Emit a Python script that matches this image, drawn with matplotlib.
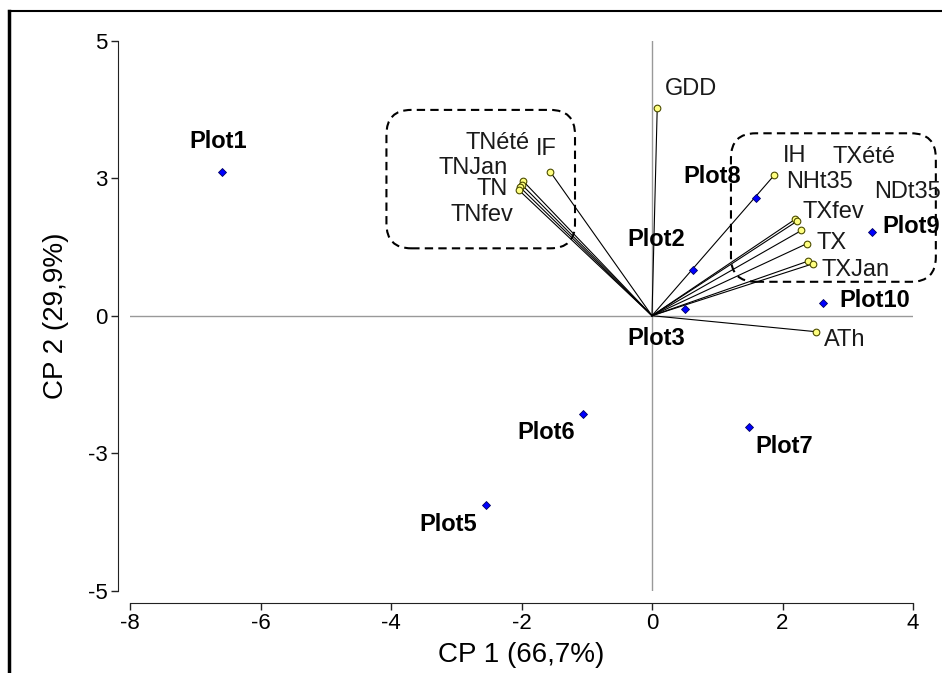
import matplotlib
matplotlib.use("Agg")
import matplotlib.pyplot as plt
from matplotlib.patches import FancyBboxPatch
from matplotlib.lines import Line2D

plt.rcParams['font.family'] = ['Liberation Sans', 'DejaVu Sans']
plt.rcParams['axes.unicode_minus'] = False

# --- individus (plots) ---
plot_names = ["Plot1", "Plot2", "Plot3", "Plot5", "Plot6", "Plot7", "Plot8", "Plot9", "Plot10"]
plot_x = [-6.59, 0.63, 0.51, -2.55, -1.05, 1.48, 1.59, 3.37, 2.62]
plot_y = [3.14, 1.00, 0.14, -4.13, -2.14, -2.43, 2.57, 1.83, 0.28]

# --- variables ---
var_names = ["GDD", "IF", "TNété", "TNJan", "TN", "TNfev", "IH", "NHt35", "TXfev",
             "NDt35", "TX", "TXJan", "TXété", "ATh"]
var_x = [0.08, -1.56, -1.97, -1.99, -2.02, -2.04, 1.87, 2.19, 2.22, 2.29, 2.37, 2.39, 2.46, 2.52]
var_y = [4.53, 3.14, 2.93, 2.85, 2.80, 2.74, 3.06, 2.10, 2.06, 1.86, 1.57, 1.19, 1.13, -0.35]

y_ticks = [-6, -3, 0, 3, 6]
y_tick_labels = ["-5", "-3", "0", "3", "5"]
x_ticks = [-8, -6, -4, -2, 0, 2, 4]

# decalage des etiquettes en pixels (dx, dy, ha)
plot_lab = {
    "Plot1": (-4, 30, "center"), "Plot2": (-37, 30, "center"), "Plot3": (-29, -29, "center"),
    "Plot5": (-37, -20, "center"), "Plot6": (-37, -19, "center"), "Plot7": (36, -19, "center"),
    "Plot8": (-44, 21, "center"), "Plot9": (10, 5, "left"), "Plot10": (16, 2, "left"),
}
var_lab = {
    "GDD": (8, 19, "left"), "IF": (-4, 23, "center"), "TNété": (6, 38, "right"),
    "TNJan": (-14, 17, "right"), "TN": (-12, -2, "right"), "TNfev": (-6, -25, "right"),
    "IH": (9, 19, "left"), "NHt35": (-9, 37, "left"), "TXfev": (6, 9, "left"),
    "NDt35": (73, 38, "left"), "TX": (10, 1, "left"), "TXJan": (14, -9, "left"),
    "TXété": (20, 107, "left"), "ATh": (8, -8, "left"),
}

fig = plt.figure(figsize=(9.42, 6.73), dpi=100)
ax = fig.add_axes([130 / 942, 1 - 590.7 / 673, 783 / 942, 550 / 673])
ax.set_xlim(-8, 4)
ax.set_ylim(-6, 6)

# axes de reference
ax.axhline(0, color="#999999", lw=1, zorder=1)
ax.axvline(0, color="#999999", lw=1, zorder=1)

# fleches des variables
for vx, vy in zip(var_x, var_y):
    ax.plot([0, vx], [0, vy], color="black", lw=0.8, zorder=2)
ax.plot(var_x, var_y, "o", ms=4.8, mfc="#ffff80", mec="#4d4d00", mew=0.8, ls="none", zorder=4)
ax.plot(plot_x, plot_y, "D", ms=4.0, mfc="#0000ff", mec="#000060", mew=0.6, ls="none", zorder=5)

for n, px, py in zip(plot_names, plot_x, plot_y):
    dx, dy, ha = plot_lab[n]
    ax.annotate(n, (px, py), xytext=(dx, dy), textcoords="offset pixels", ha=ha, va="center",
                fontsize=17, fontweight="bold", annotation_clip=False, zorder=6)
for n, vx, vy in zip(var_names, var_x, var_y):
    dx, dy, ha = var_lab[n]
    ax.annotate(n, (vx, vy), xytext=(dx, dy), textcoords="offset pixels", ha=ha, va="center",
                fontsize=17, color="#1a1a1a", annotation_clip=False, zorder=6)

# cadres pointilles
for (x0, x1, y0, y1) in [(-4.07, -1.18, 1.47, 4.49), (1.21, 4.35, 0.74, 3.98)]:
    box = FancyBboxPatch((x0, y0), x1 - x0, y1 - y0,
                         boxstyle="round,pad=0,rounding_size=0.38", mutation_aspect=1.42,
                         fill=False, ec="black", lw=1.5, ls=(0, (4, 2.5)), clip_on=False, zorder=3)
    ax.add_patch(box)

# style des axes
for s in ["top", "right"]:
    ax.spines[s].set_visible(False)
ax.spines["left"].set_position(("outward", 9))
ax.spines["bottom"].set_position(("outward", 9))
ax.spines["left"].set_color("#222222")
ax.spines["bottom"].set_color("#222222")
ax.set_yticks(y_ticks)
ax.set_yticklabels(y_tick_labels)
ax.set_xticks(x_ticks)
ax.tick_params(axis="both", length=5, width=1, color="#222222", labelsize=16, pad=2)
ax.set_xlabel("CP 1 (66,7%)", fontsize=20, labelpad=6)
ax.set_ylabel("CP 2 (29,9%)", fontsize=20, labelpad=14)

# cadre de la figure
fig.add_artist(Line2D([9 / 942, 9 / 942], [0, 1 - 11 / 673], color="black", lw=2.5))
fig.add_artist(Line2D([9 / 942, 1], [1 - 11 / 673, 1 - 11 / 673], color="black", lw=1.5))

fig.savefig("out.png", dpi=100)
